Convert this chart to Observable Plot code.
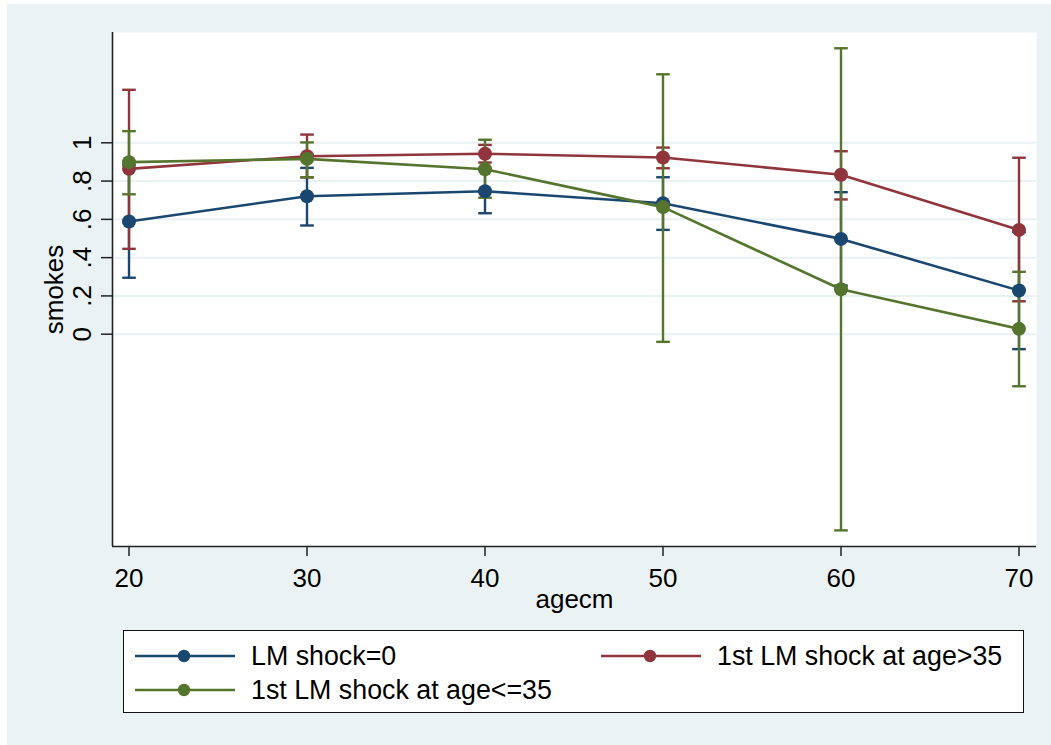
<!DOCTYPE html>
<html>
<head>
<meta charset="utf-8">
<script src="https://cdn.jsdelivr.net/npm/d3@7"></script>
<script src="https://cdn.jsdelivr.net/npm/@observablehq/plot@0.6"></script>
<style>
  html, body { margin: 0; padding: 0; background: #ffffff; }
  body { width: 1051px; height: 745px; position: relative; overflow: hidden;
         font-family: Arial, "Liberation Sans", sans-serif; }
  #wrap { position: absolute; left: 7px; top: 4px; width: 1044px; height: 741px; background: #eaf2f3; }
  #chart { position: absolute; left: 0; top: 0; }
  #legend { position: absolute; left: 116px; top: 626px; width: 901px; height: 83px;
            background: #ffffff; border: 1px solid #111; box-sizing: border-box; }
  .item { position: absolute; height: 30px; display: flex; align-items: center; }
  .item svg { display: block; }
  .item span { font-size: 26.8px; color: #000; margin-left: 16px; white-space: nowrap; line-height: 30px; }
</style>
</head>
<body>
<div id="wrap">
  <div id="chart"></div>
  <div id="legend"></div>
</div>
<script>
// ---- data ----
const ages = [20, 30, 40, 50, 60, 70];
const seriesNames = ["LM shock=0", "1st LM shock at age>35", "1st LM shock at age<=35"];
const seriesColors = ["#1a476f", "#90353b", "#55752f"];

const est0 = [0.589, 0.721, 0.747, 0.684, 0.498, 0.228];
const lo0  = [0.295, 0.568, 0.632, 0.545, 0.254, -0.078];
const hi0  = [0.883, 0.869, 0.862, 0.820, 0.742, 0.534];

const est1 = [0.864, 0.930, 0.943, 0.923, 0.833, 0.545];
const lo1  = [0.446, 0.819, 0.897, 0.867, 0.704, 0.172];
const hi1  = [1.277, 1.043, 0.989, 0.975, 0.956, 0.922];

const est2 = [0.899, 0.916, 0.862, 0.664, 0.235, 0.028];
const lo2  = [0.731, 0.820, 0.713, -0.040, -1.025, -0.272];
const hi2  = [1.061, 1.002, 1.016, 1.358, 1.494, 0.326];

const xTicks = [20, 30, 40, 50, 60, 70];
const yTicks = [0, 0.2, 0.4, 0.6, 0.8, 1];
const yTickLabels = ["0", ".2", ".4", ".6", ".8", "1"];
const xTitle = "agecm";
const yTitle = "smokes";

// ---- table ----
const ests = [est0, est1, est2], los = [lo0, lo1, lo2], his = [hi0, hi1, hi2];
const rows = [];
seriesNames.forEach((s, i) => ages.forEach((a, j) =>
  rows.push({series: s, idx: i, age: a, est: ests[i][j], lo: los[i][j], hi: his[i][j]})));

const xDomain = [19.073, 70.983];
const yDomain = [-1.1092, 1.5763];
const font = 'Arial, "Liberation Sans", sans-serif';

const capSymbol = {
  draw(context, size) {
    const w = Math.sqrt(size / Math.PI);
    context.moveTo(-w, 0);
    context.lineTo(w, 0);
  }
};

const marks = [
  Plot.frame({fill: "#ffffff", stroke: null}),
  Plot.gridY(yTicks, {stroke: "#eaf2f3", strokeOpacity: 1, strokeWidth: 2})
];
seriesNames.forEach((s, i) => {
  const d = rows.filter(r => r.idx === i);
  marks.push(
    Plot.ruleX(d, {x: "age", y1: "lo", y2: "hi", stroke: seriesColors[i], strokeWidth: 2.4}),
    Plot.dot(d, {x: "age", y: "lo", r: 6.8, symbol: capSymbol, fill: "none", stroke: seriesColors[i], strokeWidth: 2.4}),
    Plot.dot(d, {x: "age", y: "hi", r: 6.8, symbol: capSymbol, fill: "none", stroke: seriesColors[i], strokeWidth: 2.4})
  );
});
seriesNames.forEach((s, i) => {
  const d = rows.filter(r => r.idx === i);
  marks.push(
    Plot.line(d, {x: "age", y: "est", stroke: seriesColors[i], strokeWidth: 2.6}),
    Plot.dot(d, {x: "age", y: "est", r: 7, fill: seriesColors[i], stroke: null})
  );
});
marks.push(
  Plot.ruleX([xDomain[0]], {stroke: "#222", strokeWidth: 1.6}),
  Plot.ruleY([yDomain[0]], {stroke: "#222", strokeWidth: 1.6}),
  Plot.axisX({ticks: xTicks, tickSize: 10, tickPadding: 12, fontSize: 26, label: null, tickFormat: d => String(d), stroke: "#222", strokeWidth: 1.5}),
  Plot.axisY({ticks: yTicks, tickSize: 11, tickFormat: () => "", label: null, stroke: "#222", strokeWidth: 1.5}),
  Plot.text(yTicks, {y: d => d, text: (d, i) => yTickLabels[i], frameAnchor: "left", dx: -22,
    rotate: -90, textAnchor: "middle", lineAnchor: "bottom", fontSize: 26, fill: "#000"}),
  Plot.text([yTitle], {text: d => d, frameAnchor: "left", dx: -50, rotate: -90,
    textAnchor: "middle", lineAnchor: "bottom", fontSize: 26, fill: "#000"}),
  Plot.text([xTitle], {text: d => d, frameAnchor: "bottom", dy: 61,
    textAnchor: "middle", lineAnchor: "bottom", fontSize: 26, fill: "#000"})
);

const chart = Plot.plot({
  width: 1044,
  height: 622,
  marginLeft: 105,
  marginRight: 15,
  marginTop: 28,
  marginBottom: 80,
  style: {background: "transparent", fontFamily: font, fontSize: "26px", color: "#000"},
  x: {domain: xDomain, axis: null},
  y: {domain: yDomain, axis: null},
  marks
});
document.getElementById("chart").appendChild(chart);

// ---- legend ----
const legend = document.getElementById("legend");
const itemPos = [
  {left: 11, top: 10},
  {left: 477, top: 10},
  {left: 11, top: 44}
];
seriesNames.forEach((s, i) => {
  const div = document.createElement("div");
  div.className = "item";
  div.style.left = itemPos[i].left + "px";
  div.style.top = itemPos[i].top + "px";
  const ns = "http://www.w3.org/2000/svg";
  const svg = document.createElementNS(ns, "svg");
  svg.setAttribute("width", 100);
  svg.setAttribute("height", 30);
  const line = document.createElementNS(ns, "line");
  line.setAttribute("x1", 0); line.setAttribute("x2", 100);
  line.setAttribute("y1", 15); line.setAttribute("y2", 15);
  line.setAttribute("stroke", seriesColors[i]); line.setAttribute("stroke-width", 2.6);
  const c = document.createElementNS(ns, "circle");
  c.setAttribute("cx", 49); c.setAttribute("cy", 15); c.setAttribute("r", 6.2);
  c.setAttribute("fill", seriesColors[i]);
  svg.appendChild(line); svg.appendChild(c);
  const span = document.createElement("span");
  span.textContent = s;
  div.appendChild(svg); div.appendChild(span);
  legend.appendChild(div);
});
</script>
</body>
</html>
